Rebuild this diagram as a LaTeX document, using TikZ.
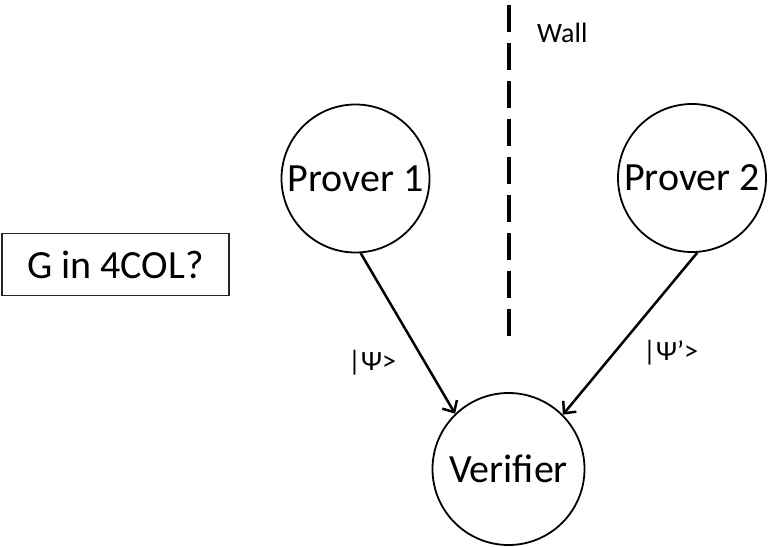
\documentclass[tikz,border=0pt]{standalone}
\usepackage{fontspec}
\setmainfont{Carlito}
\usetikzlibrary{arrows.meta}
\begin{document}
\begin{tikzpicture}[x=1pt,y=-1pt,
  agent/.style={draw, circle, line width=1.8pt, inner sep=0pt, font=\fontsize{40}{48}\selectfont},
  wallline/.style={line width=4pt, dash pattern=on 27pt off 11pt},
  arr/.style={line width=2.5pt, -{Straight Barb[length=9pt,width=17pt]}},
  lab/.style={font=\fontsize{28}{34}\selectfont, inner sep=0pt},
  qbox/.style={draw=black!85, line width=1.2pt, minimum width=227pt, minimum height=62pt, inner sep=0pt, font=\fontsize{40}{48}\selectfont}]
\useasboundingbox (0,0) rectangle (770,546);
\node[agent, minimum size=148pt] (P1) at (355.5,178.5) {Prover 1};
\node[agent, minimum size=148pt] (P2) at (692,178) {Prover 2};
\node[agent, minimum size=152pt] (V) at (508.5,469) {Verifier};
\node[qbox] (G) at (115.5,264.5) {G in 4COL?};
\coordinate (wtop) at (509,5);
\coordinate (wbot) at (509,337);
\draw[wallline] (wtop) -- (wbot);
\node[lab, anchor=base west] (wall) at (537,42) {Wall};
\draw[arr] (P1.-86) -- (V.134);
\draw[arr] (P2.-86) -- (V.45);
\node[lab, anchor=base west] (psi1) at (348,370) {|Ψ>};
\node[lab, anchor=base west] (psi2) at (643,360) {|Ψ’>};
\end{tikzpicture}
\end{document}
